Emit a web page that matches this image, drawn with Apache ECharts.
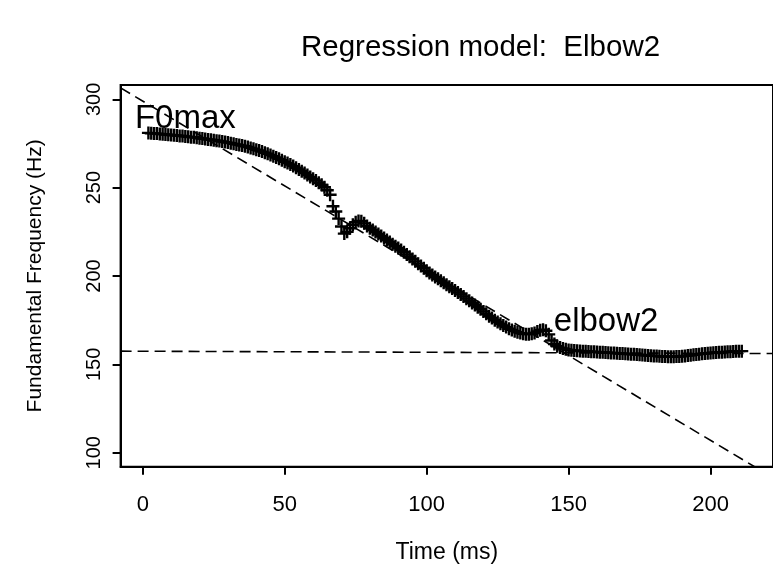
<!DOCTYPE html>
<html>
<head>
<meta charset="utf-8">
<script src="https://cdn.jsdelivr.net/npm/echarts@6/dist/echarts.min.js"></script>
<style>
  html, body { margin: 0; padding: 0; background: #fff; }
  #chart { width: 773px; height: 569px; }
</style>
</head>
<body>
<div id="chart"></div>
<script>
// F0 track, one sample per ms starting at 2 ms
const startTime = 2;
const stepMs = 1;
const f0 = [
  281.0, 280.8, 280.7, 280.6, 280.4, 280.3, 280.1, 280.0, 279.8, 279.6,
  279.5, 279.3, 279.2, 279.0, 278.8, 278.6, 278.5, 278.3, 278.0, 277.8,
  277.6, 277.3, 277.1, 276.9, 276.6, 276.4, 276.1, 275.8, 275.5, 275.2,
  274.8, 274.5, 274.2, 273.8, 273.4, 273.0, 272.5, 272.0, 271.5, 271.0,
  270.4, 269.8, 269.2, 268.5, 267.8, 267.1, 266.3, 265.5, 264.7, 263.9,
  263.1, 262.2, 261.3, 260.3, 259.3, 258.3, 257.2, 256.1, 255.0, 254.0,
  252.8, 251.6, 250.2, 248.5, 246.0, 239.5, 236.5, 232.5, 228.0, 224.0,
  225.0, 227.0, 229.0, 230.5, 231.2, 231.0, 229.8, 228.3, 227.0, 226.0,
  224.9, 223.8, 222.6, 221.5, 220.4, 219.2, 218.0, 216.9, 215.8, 214.7,
  213.5, 212.2, 210.9, 209.6, 208.3, 207.0, 205.7, 204.4, 203.0, 201.7,
  200.6, 199.5, 198.4, 197.3, 196.2, 195.1, 194.0, 192.9, 191.8, 190.7,
  189.6, 188.4, 187.2, 186.0, 184.8, 183.6, 182.4, 181.2, 179.9, 178.6,
  177.3, 176.2, 175.0, 174.0, 173.0, 172.0, 171.1, 170.2, 169.5, 168.8,
  168.2, 167.7, 167.3, 167.1, 167.1, 167.3, 167.8, 168.6, 169.3, 169.6,
  169.0, 167.0, 163.5, 161.5, 160.3, 159.5, 159.0, 158.6, 158.2, 158.0,
  157.8, 157.7, 157.6, 157.5, 157.4, 157.3, 157.2, 157.1, 157.0, 156.9,
  156.8, 156.7, 156.6, 156.5, 156.4, 156.3, 156.2, 156.1, 156.0, 155.9,
  155.8, 155.7, 155.6, 155.4, 155.3, 155.2, 155.0, 154.9, 154.8, 154.7,
  154.6, 154.5, 154.4, 154.3, 154.3, 154.3, 154.4, 154.5, 154.6, 154.8,
  155.0, 155.2, 155.4, 155.6, 155.8, 156.0, 156.2, 156.3, 156.5, 156.6,
  156.7, 156.8, 156.9, 157.0, 157.1, 157.2, 157.3, 157.4, 157.5, 157.5
];

// fitted regression lines: y = intercept + slope * t
const fitIntercepts = [299.0, 157.45];
const fitSlopes = [-0.96, -0.006];

// annotations
const labelNames = ['F0max', 'elbow2'];
const labelTimes = [15.0, 163.2];
const labelValues = [289.0, 173.8];

const xTicks = [0, 50, 100, 150, 200];
const yTicks = [100, 150, 200, 250, 300];

const xMin = -7.8, xMax = 222;
const yMin = 92.1, yMax = 308.1;

const font = '"Liberation Sans", Arial, sans-serif';

const points = f0.map(function(v, i) { return [startTime + i * stepMs, v]; });

const fitSeries = fitIntercepts.map(function(a, k) {
  const b = fitSlopes[k];
  return {
    type: 'line',
    silent: true,
    symbol: 'none',
    z: 3,
    lineStyle: { color: '#000', width: 1.6, type: [11, 6] },
    data: [[xMin, a + b * xMin], [xMax, a + b * xMax]]
  };
});

const labelData = labelNames.map(function(n, i) {
  return { name: n, value: [labelTimes[i], labelValues[i]] };
});

const chart = echarts.init(document.getElementById('chart'));
chart.setOption({
  animation: false,
  backgroundColor: '#fff',
  title: {
    text: 'Regression model:  Elbow2',
    left: 296,
    top: 28,
    textStyle: { fontFamily: font, fontSize: 29.5, fontWeight: 'normal', color: '#000' }
  },
  grid: {
    left: 120.6,
    top: 85,
    right: -13,
    bottom: 102.3,
    show: true,
    borderColor: '#000',
    borderWidth: 2
  },
  xAxis: {
    type: 'value',
    min: xMin,
    max: xMax,
    name: 'Time (ms)',
    nameLocation: 'middle',
    nameGap: 74,
    nameTextStyle: { fontFamily: font, fontSize: 23, color: '#000' },
    axisLine: { show: true, onZero: false, lineStyle: { color: '#000', width: 2 } },
    axisTick: { show: true, length: 8, lineStyle: { color: '#000', width: 2 }, customValues: xTicks },
    axisLabel: { fontFamily: font, fontSize: 22, color: '#000', margin: 27, customValues: xTicks },
    splitLine: { show: false }
  },
  yAxis: {
    type: 'value',
    min: yMin,
    max: yMax,
    name: 'Fundamental Frequency (Hz)',
    nameLocation: 'middle',
    nameGap: 75,
    nameTextStyle: { fontFamily: font, fontSize: 21, color: '#000' },
    axisLine: { show: true, onZero: false, lineStyle: { color: '#000', width: 2 } },
    axisTick: { show: true, length: 8, lineStyle: { color: '#000', width: 2 }, customValues: yTicks },
    axisLabel: { fontFamily: font, fontSize: 20, color: '#000', margin: 16, rotate: 90, customValues: yTicks },
    splitLine: { show: false }
  },
  series: [
    {
      type: 'scatter',
      silent: true,
      z: 2,
      symbol: 'path://M0,5.3 L13,5.3 L13,7.7 L0,7.7 Z M5.3,0 L7.7,0 L7.7,13 L5.3,13 Z',
      symbolSize: [13, 13],
      itemStyle: { color: '#000', opacity: 1 },
      data: points
    }
  ].concat(fitSeries).concat([
    {
      type: 'scatter',
      silent: true,
      z: 5,
      symbolSize: 0,
      itemStyle: { opacity: 1 },
      label: {
        show: true,
        position: 'inside',
        formatter: '{b}',
        fontFamily: font,
        fontSize: 33,
        color: '#000',
        opacity: 1
      },
      data: labelData
    }
  ])
});
window.addEventListener('resize', function() { chart.resize(); });
</script>
</body>
</html>
